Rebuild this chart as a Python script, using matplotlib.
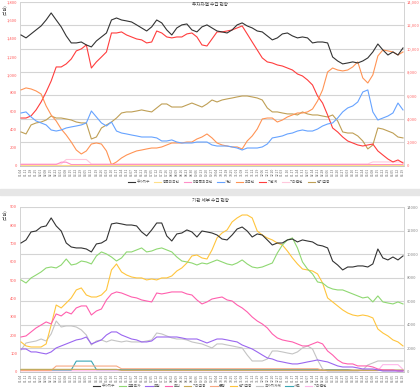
import numpy as np
import pandas as pd
import matplotlib
matplotlib.use("Agg")
import matplotlib.pyplot as plt
from matplotlib.patches import Rectangle
from matplotlib.ticker import FuncFormatter

plt.rcParams['font.family'] = ['Noto Sans CJK KR', 'DejaVu Sans']

N = 77
dates = list(pd.date_range('2019-01-04', periods=N, freq='W-FRI').strftime('%m.%d'))

# ---- top panel: 투자자별 수급 현황 (right axis units) ----
top_labels = ['주가지수', '등록외국인', '미등록외국인', '개인', '외국인', '기관계', '기타법인', '연기금등']
top_colors = ['#333333', '#ffe08a', '#ff8fc8', '#66a3ff', '#ff9455', '#ff3d3d', '#ffc8dc', '#bf9f55']

top_price = [11160, 10910, 11250, 11590, 11930, 12440, 13040, 12440, 11850, 11080,
             10480, 10480, 10560, 10310, 10140, 10650, 10990, 11330, 12440, 12610,
             12440, 12360, 12270, 12020, 11760, 11500, 11850, 12440, 12190, 11590,
             11160, 11760, 12020, 12100, 11590, 11420, 11850, 12020, 11760, 11500,
             11420, 11330, 11590, 12020, 12190, 11930, 11760, 11500, 11420, 11080,
             10740, 10910, 11250, 11330, 11080, 10910, 10990, 10910, 10480, 10560,
             10560, 10480, 9280, 8940, 8690, 8770, 8860, 8770, 8940, 9200,
             9710, 10390, 9880, 9450, 9710, 9450, 10050]
top_reg_for = [40] * 77
top_unreg_for = [100] * 8 + [300] * 2 + [100] * 67
top_indiv = [4500, 4590, 4160, 3820, 3650, 3480, 3050, 2960, 3050, 3220,
             3310, 3390, 3480, 3650, 4670, 4160, 3650, 3390, 3730, 2960,
             2790, 2710, 2620, 2540, 2450, 2450, 2450, 2370, 2110, 2110,
             2200, 2020, 1940, 1940, 1940, 2020, 2020, 2020, 1770, 1680,
             1680, 1680, 1600, 1510, 1340, 1510, 1510, 1510, 1600, 1850,
             2370, 2450, 2540, 2710, 2790, 2960, 3050, 2960, 2960, 3130,
             3390, 3560, 3650, 4070, 4590, 4930, 5100, 5440, 6290, 6470,
             4590, 3900, 4070, 4240, 4500, 5350, 4760]
top_foreign = [6470, 6640, 6550, 6380, 6120, 5100, 4330, 3820, 3130, 2620,
               2020, 1340, 1000, 1260, 1850, 1940, 1850, 1260, 80, 320,
               660, 910, 1090, 1260, 1340, 1430, 1510, 1510, 1600, 1770,
               1940, 1940, 1940, 2020, 2020, 2280, 2450, 2710, 2370, 1940,
               1770, 1680, 1600, 1600, 1430, 2110, 2540, 3130, 3990, 4070,
               4070, 3730, 3900, 4160, 4330, 4500, 4500, 4590, 4840, 5530,
               6470, 8000, 8340, 8170, 8090, 8170, 8430, 8860, 7490, 7060,
               7750, 9370, 9880, 9800, 9710, 9450, 9710]
top_inst = [4070, 4070, 4250, 4760, 5440, 6290, 7230, 8430, 8430, 8690,
            9110, 9800, 9970, 10310, 8340, 8860, 9280, 9710, 11330, 11330,
            11420, 11160, 10990, 10820, 10740, 10480, 10560, 11500, 11330, 10990,
            10910, 10990, 10990, 11250, 11330, 10990, 10310, 10220, 10820, 11420,
            11420, 11500, 11590, 11760, 11930, 11250, 10560, 9880, 9200, 8860,
            8770, 8600, 8510, 8340, 8170, 7830, 7660, 7320, 6890, 5950,
            5350, 4330, 3220, 2880, 2450, 2110, 1940, 1770, 1680, 1770,
            1850, 1260, 910, 570, 320, 490, 230]
top_nation = [150] * 9 + [530] * 5 + [150] * 56 + [320] * 7
top_corp = [2880, 2710, 3480, 3650, 3730, 3900, 4240, 4070, 4070, 3990,
            3900, 3730, 3650, 3650, 2280, 2450, 3220, 3480, 3730, 4070,
            4500, 4590, 4590, 4670, 4760, 4670, 4590, 4930, 5270, 5270,
            5010, 5010, 5010, 5180, 5350, 5180, 5010, 5270, 5610, 5440,
            5610, 5700, 5780, 5870, 5950, 5950, 5870, 5780, 5610, 4930,
            4590, 4590, 4500, 4420, 4420, 4330, 4590, 4420, 4330, 4330,
            4240, 4160, 4330, 3820, 2880, 2790, 2790, 2540, 2110, 1430,
            1770, 3220, 3130, 2960, 2790, 2450, 2370]

# ---- bottom panel: 기관 세부 수급 현황 ----
bot_labels = ['주가지수', '금융투자', '보험', '투신', '기타금융', '은행', '연기금등', '국가지자체', '사모', '기타법인']
bot_colors = ['#333333', '#8fd872', '#9a66f0', '#ff5fae', '#c8aa55', '#f8a882', '#ffc53d', '#c4c4c4', '#3aa6b4', '#ffb6ea']

bot_price = [10940, 11200, 11880, 11960, 12300, 12390, 13070, 12390, 11960, 10940,
             10600, 10520, 10520, 10430, 10180, 10860, 10940, 11200, 12560, 12640,
             12560, 12470, 12470, 12390, 11880, 11540, 12050, 12640, 12640, 11540,
             11110, 11710, 11790, 12050, 11880, 11450, 11960, 11880, 11790, 11620,
             11280, 11200, 11620, 12130, 12300, 11960, 11450, 11710, 11620, 11200,
             10770, 10940, 10940, 11200, 11280, 11030, 11200, 11110, 11030, 10770,
             10690, 10520, 9410, 9070, 8650, 8900, 8900, 8990, 8990, 8900,
             9160, 10430, 9670, 9500, 9750, 9500, 9840]
bot_fininv = [7800, 7540, 7970, 8220, 8480, 8820, 8900, 8820, 9070, 9580,
              9070, 9160, 9410, 9330, 9160, 9840, 10180, 10010, 9750, 9410,
              9670, 10180, 10180, 10350, 10520, 10180, 10260, 10430, 10520, 10350,
              10180, 9750, 9410, 9330, 9240, 9070, 9240, 9160, 9330, 9500,
              9330, 9160, 9070, 9240, 9500, 9160, 8900, 8820, 8900, 9070,
              9240, 10090, 10770, 11200, 11370, 10520, 9330, 8730, 8310, 7630,
              7540, 7200, 7030, 6950, 6950, 6780, 6610, 6440, 6270, 6350,
              5930, 6440, 5930, 5840, 5760, 5930, 5760]
bot_insur = [1930, 1930, 1680, 1680, 1590, 1510, 1680, 2020, 2190, 2360,
             2530, 2700, 2780, 2950, 2360, 2530, 2700, 3120, 3380, 3380,
             3120, 2950, 2780, 2700, 2530, 2530, 2610, 2950, 2950, 2950,
             2950, 2950, 2870, 2780, 2780, 2780, 2610, 2440, 2610, 2780,
             2780, 2700, 2610, 2530, 2270, 2100, 1930, 1680, 1420, 1170,
             1080, 910, 830, 740, 660, 660, 740, 830, 910, 1000,
             910, 830, 660, 490, 400, 400, 400, 320, 230, 230,
             230, 150, 60, 60, 60, 60, 60]
bot_trust = [2950, 3040, 3380, 3720, 3970, 4230, 4060, 4910, 4740, 5080,
             4910, 5420, 5590, 5590, 4820, 5160, 5330, 6100, 6610, 6780,
             6690, 6520, 6350, 6270, 6100, 6010, 5930, 6690, 6610, 6690,
             6780, 6780, 6780, 6610, 6520, 6100, 5760, 5930, 6180, 6270,
             6350, 6100, 6010, 5670, 5420, 5080, 4650, 4310, 4060, 3720,
             3210, 2870, 2700, 2610, 2530, 2360, 2190, 2190, 2360, 2530,
             2360, 1760, 1420, 1000, 740, 660, 660, 490, 490, 490,
             400, 230, 150, 150, 150, 60, 60]
bot_otherfin = [200] * 20 + [120] * 57
bot_bank = [100] * 7 + [480] * 13 + [250] * 40 + [130] * 17
bot_pension = [2530, 2190, 2100, 2100, 2100, 2360, 3970, 5670, 5420, 5840,
               6270, 6950, 7120, 6520, 6350, 6350, 6520, 6950, 8650, 9160,
               8480, 8220, 8050, 7970, 7970, 7800, 7880, 7800, 7970, 7970,
               8140, 8560, 8820, 9240, 9840, 9920, 9670, 9580, 10350, 11370,
               11790, 12050, 12730, 13070, 13320, 13320, 13070, 11960, 11620, 11370,
               11200, 10940, 10770, 10260, 9670, 9160, 8730, 8650, 8560, 8310,
               7540, 6270, 5930, 5590, 5250, 4990, 4820, 4740, 4820, 4740,
               4570, 3630, 3290, 3040, 2700, 2530, 2190]
bot_nation = [1850, 2440, 2530, 2610, 2780, 2610, 3210, 4310, 3800, 3890,
              3890, 3800, 3550, 3120, 2270, 2610, 2700, 2530, 2700, 2610,
              2530, 2610, 2530, 2530, 2530, 2610, 2700, 3290, 3210, 3040,
              2870, 2780, 2780, 2700, 2530, 2440, 2360, 2190, 2020, 2360,
              2360, 2270, 2190, 2100, 2020, 1420, 910, 910, 910, 1080,
              1760, 1760, 1680, 1590, 1510, 1680, 2020, 2190, 1930, 1000,
              230, 60, 60, 60, 60, 60, 60, 60, 150, 570,
              740, 910, 910, 910, 910, 910, 910]
bot_pe = [150] * 11 + [900] * 4 + [180] * 51 + [120] * 11
bot_corp = [80] * 72 + [600] * 4 + [200]

top_series = [top_price, top_reg_for, top_unreg_for, top_indiv, top_foreign,
              top_inst, top_nation, top_corp]
bot_series = [bot_price, bot_fininv, bot_insur, bot_trust, bot_otherfin, bot_bank,
              bot_pension, bot_nation, bot_pe, bot_corp]

W, H = 420, 389
fig = plt.figure(figsize=(W / 100, H / 100), dpi=100)
fig.patches.append(Rectangle((0, 1 - 195 / H), 1, 6 / H, transform=fig.transFigure,
                             color='#e6e6e6', zorder=0))
x = np.arange(N)


def panel(top_px, bot_px, series, colors, labels, left_max, left_step, comma,
          right_color, title, title_px, legend_px, legend_cx):
    ax = fig.add_axes([20 / W, 1 - bot_px / H, 384 / W, (bot_px - top_px) / H])
    ax2 = ax.twinx()
    handles = []
    for s, c, lab in reversed(list(zip(series, colors, labels))):
        h, = ax2.plot(x, s, color=c, lw=0.8, label=lab)
        handles.insert(0, h)
    ax2.set_ylim(0, 14000)
    ax.set_ylim(0, left_max)
    ax.set_xlim(-0.2, N - 0.8)
    ax2.set_yticks(range(0, 14001, 2000))
    ax.set_yticks(range(0, left_max + 1, left_step))
    fmt = FuncFormatter(lambda v, p: f'{int(v):,}' if comma else f'{int(v)}')
    ax.yaxis.set_major_formatter(fmt)
    ax2.yaxis.set_major_formatter(fmt)
    ax2.grid(axis='y', color='#d4d4d4', lw=0.8)
    ax.tick_params(axis='y', length=0, labelsize=3, colors='#ff5a5a', pad=2)
    ax2.tick_params(axis='y', length=0, labelsize=3, colors=right_color, pad=2)
    ax.set_xticks(x)
    ax.set_xticklabels(dates, rotation=90, fontsize=2.4, color='#666666')
    ax.tick_params(axis='x', length=0, pad=1.5)
    for a in (ax, ax2):
        a.spines['top'].set_visible(False)
    ax.spines['right'].set_visible(False)
    ax2.spines['left'].set_visible(False)
    ax2.spines['bottom'].set_visible(False)
    ax.spines['left'].set_color('#cccccc')
    ax2.spines['right'].set_color('#cccccc')
    ax.spines['bottom'].set_color('#bbbbbb')
    for a in (ax, ax2):
        for sp in a.spines.values():
            sp.set_linewidth(0.6)
    fig.text(0.5, 1 - title_px / H, title, fontsize=3.3, ha='center', va='center',
             color='#444444')
    fig.text(5 / W, 1 - (top_px + 8) / H, '(억원)', fontsize=3, rotation=90,
             ha='center', va='center', color='#444444')
    fig.legend(handles=handles, loc='center', ncol=len(handles), frameon=False,
               fontsize=2.6, handlelength=2.0, handletextpad=0.4, columnspacing=1.1,
               borderpad=0.1, bbox_to_anchor=(legend_cx / W, 1 - legend_px / H),
               labelcolor='#555555')


panel(1.7, 165.7, top_series, top_colors, top_labels, 1800, 200, True, '#ff6a6a',
      '투자자별 수급 현황', 5, 182, 229)
panel(207, 371.7, bot_series, bot_colors, bot_labels, 900, 100, False, '#888888',
      '기관 세부 수급 현황', 201, 386, 210)

fig.savefig('out.png', dpi=100)
